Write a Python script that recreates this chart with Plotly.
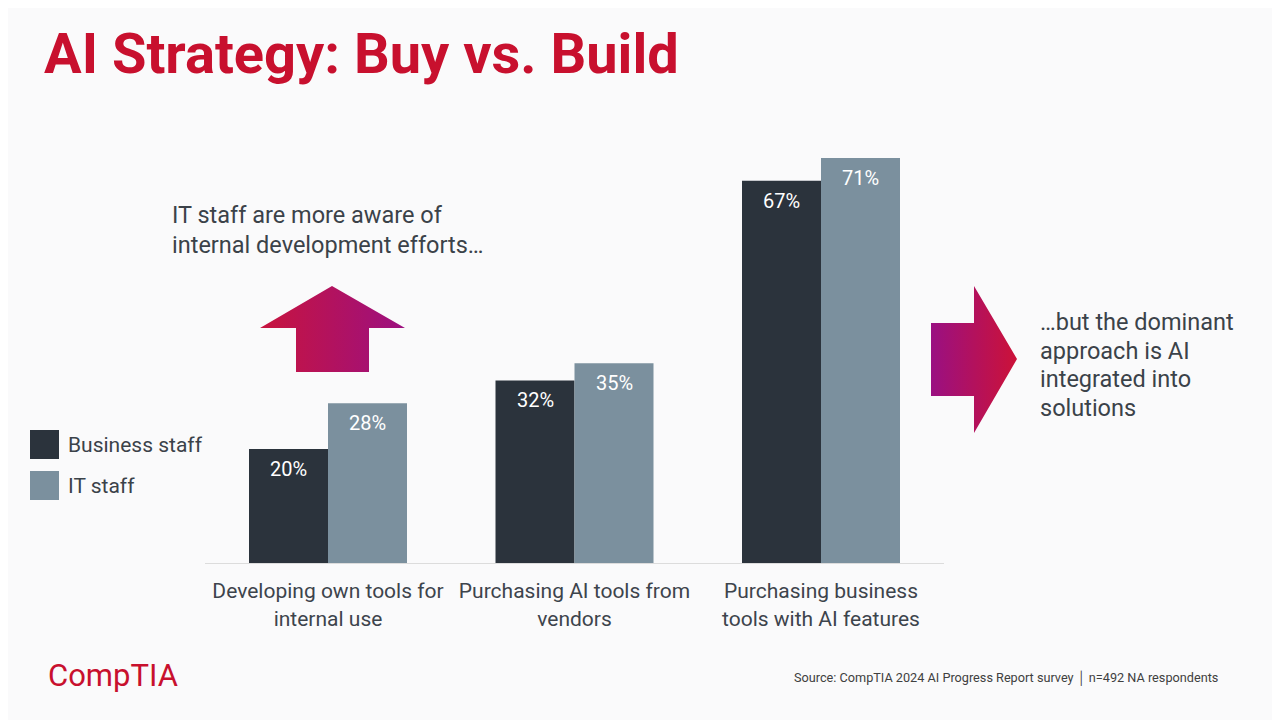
import plotly.graph_objects as go

categories = ["Developing own tools for<br>internal use",
              "Purchasing AI tools from<br>vendors",
              "Purchasing business<br>tools with AI features"]
business_staff = [20, 32, 67]
it_staff = [28, 35, 71]
series_names = ["Business staff", "IT staff"]
colors = ["#2b333c", "#7b909e"]

title_text = "AI Strategy: Buy vs. Build"
left_note = ["IT staff are more aware of", "internal development efforts…"]
right_note = ["…but the dominant", "approach is AI", "integrated into", "solutions"]
source_text = "Source: CompTIA 2024 AI Progress Report survey \u2502 n=492 NA respondents"

OFF = 8  # page body margin
W, H = 1280 - OFF, 720 - OFF
TEXT = "#3b4249"
RED = "#c8102e"
FONT = "Roboto"


def fx(x):
    return (x - OFF) / W


def fy(y):
    return 1 - (y - OFF) / H


fig = go.Figure()
for name, vals, col in zip(series_names, [business_staff, it_staff], colors):
    fig.add_trace(go.Bar(x=categories, y=vals, name=name, marker_color=col,
                         marker_line_width=0, showlegend=False, hoverinfo="skip"))

# decorative arrows in pixel coordinates
up_x = [332, 405, 369, 369, 296, 296, 260, 332]
up_y = [286, 328, 328, 372, 372, 328, 328, 286]
fig.add_trace(go.Scatter(x=up_x, y=up_y, xaxis="x2", yaxis="y2", mode="lines",
                         line=dict(width=0), fill="toself",
                         fillgradient=dict(type="horizontal",
                                           colorscale=[[0, "#c8143e"], [1, "#9c1080"]],
                                           start=260, stop=405),
                         showlegend=False, hoverinfo="skip"))
rt_x = [931, 974, 974, 1017, 974, 974, 931, 931]
rt_y = [323, 323, 286, 359, 433, 396, 396, 323]
fig.add_trace(go.Scatter(x=rt_x, y=rt_y, xaxis="x2", yaxis="y2", mode="lines",
                         line=dict(width=0), fill="toself",
                         fillgradient=dict(type="horizontal",
                                           colorscale=[[0, "#9a1082"], [1, "#cc1238"]],
                                           start=931, stop=1017),
                         showlegend=False, hoverinfo="skip"))

annotations = []
for vals, shift in [(business_staff, -39.5), (it_staff, 39.5)]:
    for c, v in zip(categories, vals):
        annotations.append(dict(x=c, y=v, xref="x", yref="y", text=f"{v}%",
                                showarrow=False, xshift=shift, yshift=-20,
                                font=dict(family=FONT, size=20, color="white")))


def px(x, y, text, size, color=TEXT, xanchor="left", yanchor="middle", weight=None):
    f = dict(family=FONT, size=size, color=color)
    if weight:
        f["weight"] = weight
    return dict(x=x, y=y, xref="x2", yref="y2", text=text, showarrow=False,
                xanchor=xanchor, yanchor=yanchor, font=f)


annotations.append(px(42, 54, title_text, 56, color=RED, weight="bold"))
for i, line in enumerate(left_note):
    annotations.append(px(170, 215 + 30 * i, line, 23.5))
for i, line in enumerate(right_note):
    annotations.append(px(1038, 322 + 28.5 * i, line, 23.5))

shapes = []
for i, (name, col) in enumerate(zip(series_names, colors)):
    y0 = 430 + 41 * i
    shapes.append(dict(type="rect", xref="x2", yref="y2", x0=30, x1=59, y0=y0, y1=y0 + 29,
                       fillcolor=col, line=dict(width=0)))
    annotations.append(px(66, y0 + 14.5, name, 21))
annotations.append(px(46, 675, "CompTIA", 31, color=RED, weight=400))
annotations.append(px(1220, 678, source_text, 12.7, color="#404040", xanchor="right"))

fig.update_layout(
    width=W, height=H,
    margin=dict(l=0, r=0, t=0, b=0),
    paper_bgcolor="#fafafb", plot_bgcolor="rgba(0,0,0,0)",
    barmode="group", bargap=0.359, bargroupgap=0,
    font=dict(family=FONT, color=TEXT),
    xaxis=dict(domain=[fx(204.75), fx(944.25)], showline=True, linecolor="#dcdcdc",
               linewidth=1, ticks="", ticklabelstandoff=9,
               tickfont=dict(family=FONT, size=21, color="#3d444c"),
               automargin=False, showgrid=False, zeroline=False, fixedrange=True),
    yaxis=dict(domain=[fy(563), fy(100)], range=[0, 463 / 5.704],
               showticklabels=False, showgrid=False, zeroline=False, automargin=False,
               fixedrange=True),
    xaxis2=dict(domain=[0, 1], range=[OFF, 1280], visible=False, anchor="y2",
                fixedrange=True),
    yaxis2=dict(domain=[0, 1], range=[720, OFF], visible=False, anchor="x2",
                fixedrange=True),
    annotations=annotations,
    shapes=shapes,
)

fig.write_html("out.html")
